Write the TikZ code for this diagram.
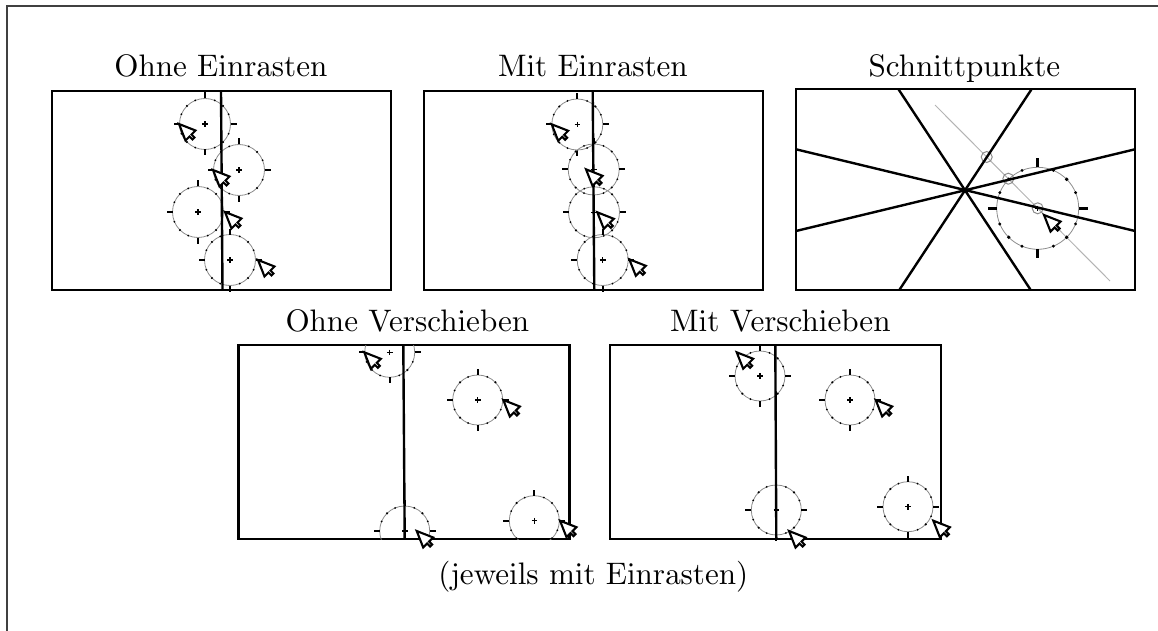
\documentclass[tikz,border=0pt]{standalone}
\definecolor{ringcol}{HTML}{8C8C8C}
\definecolor{guidecol}{HTML}{B4B4B4}
\usetikzlibrary{positioning}
\font\headfont=cmr10 at 31.1pt

% snap ring: x, y, radius, tick length, line width
\newcommand{\snapring}[5]{%
  \draw[ringcol, line width=0.8pt] (#1,#2) circle (#3);
  \foreach \ang in {0,90,180,270}
    \draw[black, line width=#5] ({#1+#3*cos(\ang)},{#2+#3*sin(\ang)}) -- ({#1+(#3+#4)*cos(\ang)},{#2+(#3+#4)*sin(\ang)});
  \foreach \ang in {22.5,67.5,112.5,157.5,202.5,247.5,292.5,337.5}
    \fill[black] ({#1+#3*cos(\ang)},{#2+#3*sin(\ang)}) circle (#5*0.5);
  \foreach \ang in {45,135,225,315}
    \fill[black] ({#1+#3*cos(\ang)},{#2+#3*sin(\ang)}) circle (#5*0.6);
  \draw[black, line width=1.5pt] (#1-2.8,#2) -- (#1+2.8,#2) (#1,#2-2.8) -- (#1,#2+2.8);
}
% mouse pointer with its tip at x, y
\newcommand{\snapcursor}[2]{%
  \draw[black, fill=white, line width=2.1pt, line join=miter, shift={(#1,#2)}]
    (0,0) -- (16.5,6.5) -- (12.5,10.5) -- (15.5,13.5) -- (13.5,15.5) -- (10.5,12.5) -- (6.5,16.5) -- cycle;
}

\begin{document}
\begin{tikzpicture}[x=1pt, y=-1pt, font=\headfont,
    panelbox/.style={draw, line width=2.4pt, minimum width=339pt, minimum height=199pt, inner sep=0pt, outer sep=0pt},
    lowbox/.style={panelbox, minimum width=331pt, minimum height=194pt},
    bar/.style={line width=2.4pt},
    headline/.style={inner sep=0pt, anchor=base}]

  \useasboundingbox (0,0) rectangle (1158,631);
  \draw[line width=1.2pt, black!75] (7,631) -- (7,6) -- (1158,6);

  % panels
  \node[panelbox] (ohne) at (221.5,190.5) {};
  \node[panelbox] (mit) at (593.5,190.5) {};
  \node[panelbox, minimum height=201pt] (schnitt) at (965.5,189.5) {};
  \node[lowbox] (ohnev) at (403.8,442.2) {};
  \node[lowbox] (mitv) at (775.7,442.2) {};

  % headlines
  \node[headline] (tohne) at (221,76.7) {Ohne Einrasten};
  \node[headline] (tmit) at (593,76.7) {Mit Einrasten};
  \node[headline] (tschnitt) at (964.5,76.7) {Schnittpunkte};
  \node[headline] (tohnev) at (407.5,331.7) {Ohne Verschieben};
  \node[headline] (tmitv) at (780.5,331.7) {Mit Verschieben};
  \node[headline] (tjew) at (593.5,584) {(jeweils mit Einrasten)};

  % Ohne Einrasten
  \snapring{205}{124}{25.5}{6}{2pt}
  \snapring{239}{170}{25.5}{6}{2pt}
  \snapring{198}{212}{25.5}{6}{2pt}
  \snapring{230}{260}{25.5}{6}{2pt}
  \draw[bar] (ohne.north -| 221,0) -- (ohne.south -| 222.5,0);
  \snapcursor{179}{124}
  \snapcursor{213}{170}
  \snapcursor{225}{212}
  \snapcursor{258}{260}

  % Mit Einrasten
  \snapring{577.3}{124.5}{25.5}{6}{2pt}
  \snapring{593.7}{169.5}{25.5}{6}{2pt}
  \snapring{594}{212.3}{25.5}{6}{2pt}
  \snapring{602.7}{260}{25.5}{6}{2pt}
  \draw[bar] (mit.north -| 592.7,0) -- (mit.south -| 594.3,0);
  \snapcursor{551.7}{124.3}
  \snapcursor{586}{169.3}
  \snapcursor{597.3}{212.3}
  \snapcursor{629.3}{259.3}

  % Schnittpunkte
  \draw[guidecol, line width=1pt] (935,105) -- (1110,281);
  \foreach \px/\py in {986.7/157, 1008.3/178.7, 1037.7/208.3}
    \draw[ringcol, line width=1pt] (\px,\py) circle (5.5);
  \snapring{1037.7}{208.3}{41}{9}{3.2pt}
  \draw[bar] (898.3,89) -- (1030.7,290);
  \draw[bar] (1031.7,89) -- (899.3,290);
  \draw[bar] (796,149.3) -- (1135,231);
  \draw[bar] (796,231) -- (1135,149.3);
  \snapcursor{1044}{215}

  % Ohne Verschieben
  \begin{scope}
    \clip (ohnev.north west) rectangle (ohnev.south east);
    \snapring{389.7}{352.3}{25}{6}{2pt}
    \snapring{477.7}{400}{25}{6}{2pt}
    \snapring{404.7}{531}{25}{6}{2pt}
    \snapring{534.3}{520.7}{25}{6}{2pt}
  \end{scope}
  \draw[bar] (ohnev.north -| 403.3,0) -- (ohnev.south -| 404.7,0);
  \snapcursor{364.3}{352.3}
  \snapcursor{503.3}{400}
  \snapcursor{416.7}{531}
  \snapcursor{560}{520.7}

  % Mit Verschieben
  \snapring{760}{376}{25}{6}{2pt}
  \snapring{850}{400}{25}{6}{2pt}
  \snapring{776.3}{510}{25}{6}{2pt}
  \snapring{908}{506.7}{25}{6}{2pt}
  \draw[bar] (mitv.north -| 775.3,0) -- (mitv.south -| 776.3,0);
  \snapcursor{736.7}{352.3}
  \snapcursor{875.7}{400}
  \snapcursor{789}{531}
  \snapcursor{933.3}{520.7}
\end{tikzpicture}
\end{document}
